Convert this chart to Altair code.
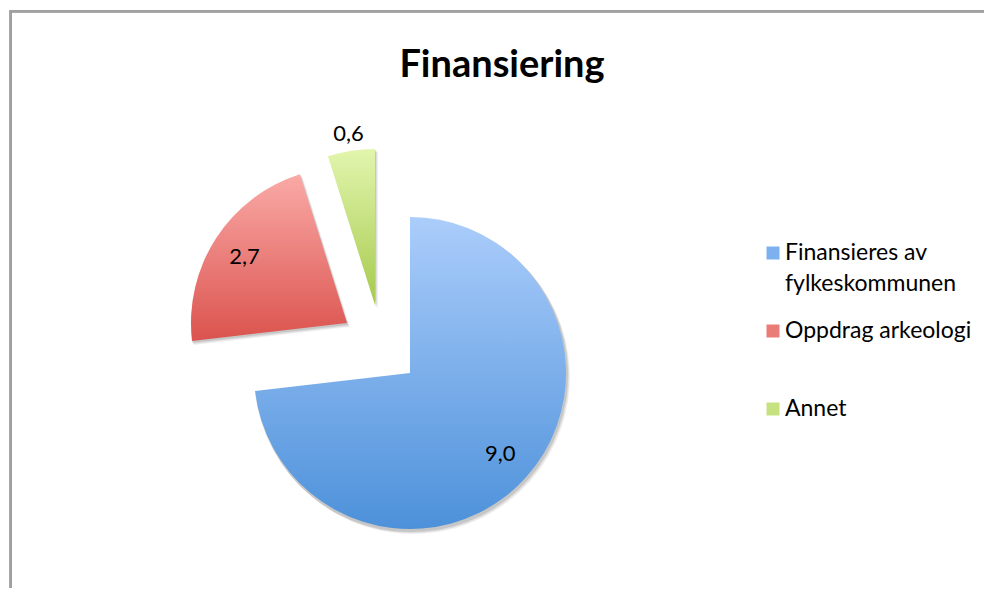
import altair as alt
import pandas as pd

# ---- data ----
kategorier = ["Finansieres av fylkeskommunen", "Oppdrag arkeologi", "Annet"]
verdier = [9.0, 2.7, 0.6]
legende_tekst = ["Finansieres av\nfylkeskommunen", "Oppdrag arkeologi", "Annet"]

# ---- style ----
farger_topp = ["#abcdfb", "#faaaa7", "#e2f5ad"]
farger_bunn = ["#4d91da", "#db534e", "#a6ca4e"]
farger_legende = ["#7cb0ee", "#ea7c78", "#c6e27f"]
eksplosjon = [(0, 0), (-63, -50), (-35, -68)]
etikett_radius = [121, 122, 173]
CX, CY, R = 402, 265, 156
FONT = "Lato"
FS = 22
FS_LEG = 23

df = pd.DataFrame({
    "kategori": kategorier,
    "verdi": verdier,
    "rekkefolge": list(range(len(kategorier))),
    "legende": legende_tekst,
})

theta_scale = alt.Scale(domain=[0, sum(verdier)])

base = alt.Chart(df).transform_window(
    slutt="sum(verdi)", sort=[alt.SortField("rekkefolge")], frame=[None, 0]
).transform_calculate(
    start="datum.slutt - datum.verdi"
).transform_calculate(
    midt="(datum.start + datum.slutt) / 2",
    etikett="replace(format(datum.verdi, '.1f'), '.', ',')",
)

skygger = []
lag = []
for i, kat in enumerate(kategorier):
    dx, dy = eksplosjon[i]
    sub = base.transform_filter(alt.datum.kategori == kat)
    gradient = {
        "gradient": "linear", "x1": 0, "y1": 0, "x2": 0, "y2": 1,
        "stops": [
            {"offset": 0, "color": farger_topp[i]},
            {"offset": 1, "color": farger_bunn[i]},
        ],
    }
    # soft drop shadow
    for k, (sx, sy, op) in enumerate([(3, 4, 0.06), (2, 3, 0.08), (1, 2, 0.10)]):
        skygger.append(
            sub.mark_arc(radius=R + 1, color="#000000", opacity=op,
                         xOffset=dx + sx, yOffset=dy + sy).encode(
                theta=alt.Theta("start:Q", scale=theta_scale),
                theta2="slutt:Q",
                x=alt.value(CX),
                y=alt.value(CY),
            )
        )
    arc = sub.mark_arc(radius=R, fill=gradient, xOffset=dx, yOffset=dy).encode(
        theta=alt.Theta("start:Q", scale=theta_scale),
        theta2="slutt:Q",
        x=alt.value(CX),
        y=alt.value(CY),
    )
    txt = sub.mark_text(
        radius=etikett_radius[i], font=FONT, fontSize=FS, color="black",
        xOffset=dx, yOffset=dy,
    ).encode(
        theta=alt.Theta("midt:Q", scale=theta_scale),
        text="etikett:N",
        x=alt.value(CX),
        y=alt.value(CY),
    )
    lag += [arc, txt]

# ---- custom legend ----
leg_y = alt.Y("kategori:N", sort=kategorier,
              scale=alt.Scale(domain=kategorier, range=[145, 301], padding=0),
              axis=None)
leg_sym = alt.Chart(df).mark_square(size=169, opacity=1).encode(
    x=alt.value(765),
    y=leg_y,
    color=alt.Color("kategori:N", sort=kategorier,
                    scale=alt.Scale(domain=kategorier, range=farger_legende),
                    legend=None),
)
leg_txt = alt.Chart(df).mark_text(
    align="left", baseline="alphabetic", dy=7, font=FONT, fontSize=FS_LEG,
    color="black", lineBreak="\n", lineHeight=31,
).encode(
    x=alt.value(777),
    y=leg_y,
    text="legende:N",
)

# ---- border (chart frame) ----
ramme_v = alt.Chart(df).mark_rule(color="#a0a0a0", strokeWidth=2.5).encode(
    x=alt.value(2.7), y=alt.value(-96.7), y2=alt.value(600)
)
ramme_t = alt.Chart(df).mark_rule(color="#a0a0a0", strokeWidth=2.5).encode(
    x=alt.value(1.5), x2=alt.value(1000), y=alt.value(-96.7)
)

chart = alt.layer(ramme_v, ramme_t, *skygger, *lag, leg_sym, leg_txt).properties(
    width=976,
    height=480,
    padding={"left": 0, "top": 100, "right": 0, "bottom": 0},
    autosize=alt.AutoSizeParams(type="none"),
    title=alt.TitleParams(
        "Finansiering", font=FONT, fontSize=38, fontWeight="bold",
        color="black", anchor="middle", frame="group", dx=6, offset=-75,
    ),
).configure_view(strokeWidth=0)

chart.save("out.html", embed_options={"renderer": "svg", "actions": False})
